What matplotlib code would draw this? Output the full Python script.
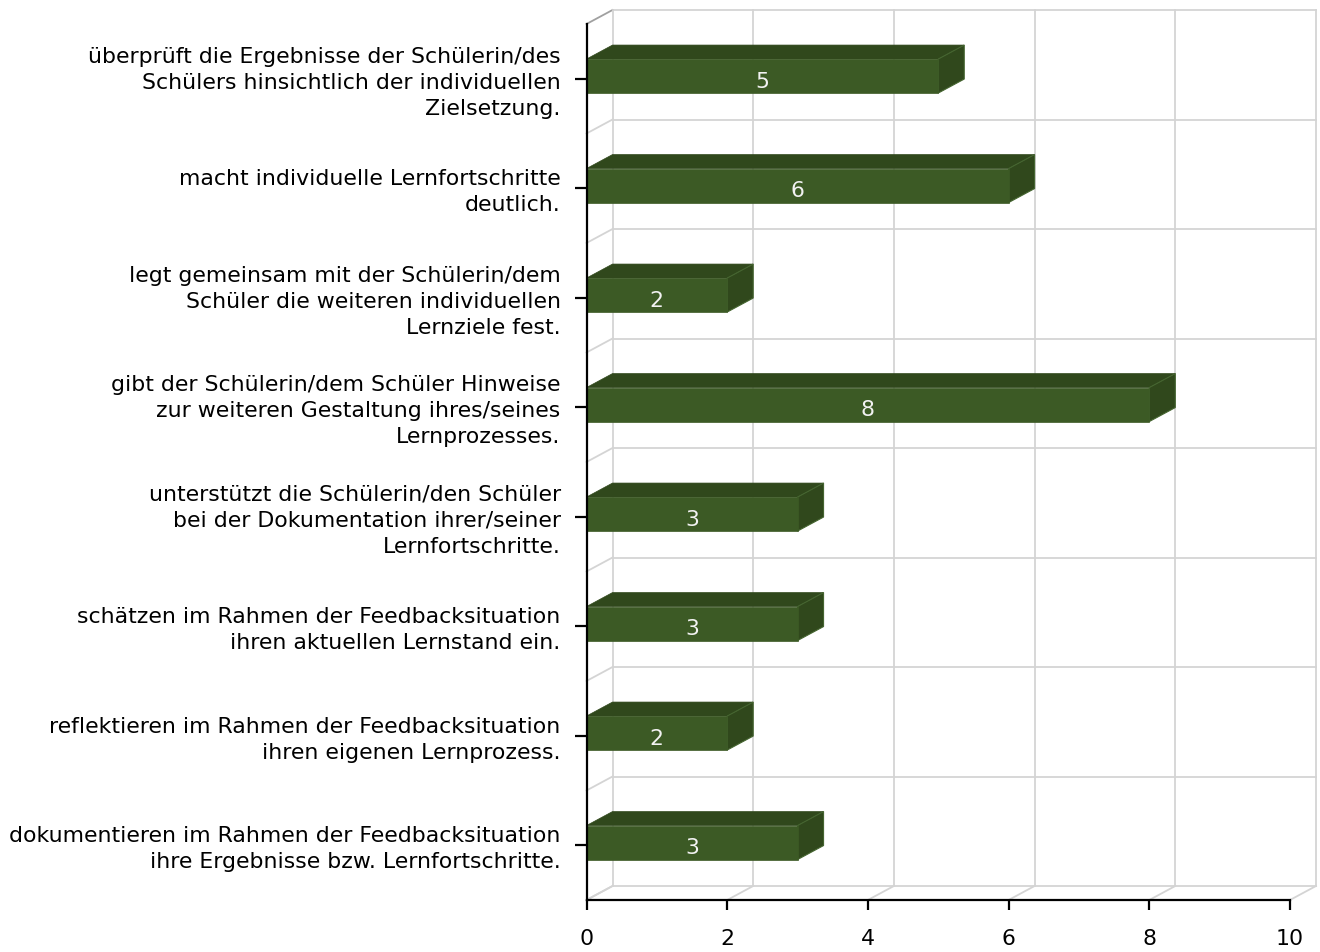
import matplotlib
matplotlib.use("Agg")
import matplotlib.pyplot as plt
from matplotlib.patches import Polygon
from matplotlib.transforms import ScaledTranslation

categories = [
    "überprüft die Ergebnisse der Schülerin/des\nSchülers hinsichtlich der individuellen\nZielsetzung.",
    "macht individuelle Lernfortschritte\ndeutlich.",
    "legt gemeinsam mit der Schülerin/dem\nSchüler die weiteren individuellen\nLernziele fest.",
    "gibt der Schülerin/dem Schüler Hinweise\nzur weiteren Gestaltung ihres/seines\nLernprozesses.",
    "unterstützt die Schülerin/den Schüler\nbei der Dokumentation ihrer/seiner\nLernfortschritte.",
    "schätzen im Rahmen der Feedbacksituation\nihren aktuellen Lernstand ein.",
    "reflektieren im Rahmen der Feedbacksituation\nihren eigenen Lernprozess.",
    "dokumentieren im Rahmen der Feedbacksituation\nihre Ergebnisse bzw. Lernfortschritte.",
]
values = [5, 6, 2, 8, 3, 3, 2, 3]
x_ticks = [0, 2, 4, 6, 8, 10]

FRONT = "#3c5a25"
DARK = "#30481c"
GRID = "#d4d4d4"
W, H = 1320, 952
FS = 15.85

fig = plt.figure(figsize=(W / 100, H / 100), dpi=100)
ax = fig.add_axes([586.5 / W, 1 - 900 / H, (1290 - 586.5) / W, (900 - 24) / H])
ax.set_xlim(0, 10)
ax.set_ylim(7.5, -0.5)

# depth of the fake 3d box, in data units
dx = 26 / 70.35
dy = 14 / 109.5

# back wall and floor
n = len(categories)
for i in range(n + 1):
    y = i - 0.5
    ax.plot([dx, 10 + dx], [y - dy, y - dy], color=GRID, lw=1.3, zorder=1, clip_on=False)
    c = "#a0a0a0" if i == 0 else GRID
    ax.plot([0, dx], [y, y - dy], color=c, lw=1.3, zorder=1, clip_on=False)
for t in x_ticks:
    ax.plot([t + dx, t + dx], [-0.5 - dy, n - 0.5 - dy], color=GRID, lw=1.3, zorder=1, clip_on=False)
    ax.plot([t, t + dx], [n - 0.5, n - 0.5 - dy], color=GRID, lw=1.3, zorder=1, clip_on=False)

# bars
bar_h = 34 / 109.5
off = -2.7 / 109.5
for i, v in enumerate(values):
    y0 = i + off - bar_h / 2
    y1 = i + off + bar_h / 2
    ax.add_patch(Polygon([(0, y0), (v, y0), (v + dx, y0 - dy), (dx, y0 - dy)],
                         facecolor=DARK, edgecolor=DARK, lw=0.5, zorder=3, clip_on=False))
    ax.add_patch(Polygon([(v, y0), (v + dx, y0 - dy), (v + dx, y1 - dy), (v, y1)],
                         facecolor=DARK, edgecolor="#456530", lw=0.8, zorder=3, clip_on=False))
    ax.add_patch(Polygon([(0, y0), (v, y0), (v, y1), (0, y1)],
                         facecolor=FRONT, edgecolor=FRONT, lw=0.5, zorder=4, clip_on=False))
    ax.text(v / 2, i + 3 / 109.5, str(v), color="#f2f2f2", fontsize=FS,
            ha="center", va="center", zorder=5)

for s in ["top", "right"]:
    ax.spines[s].set_visible(False)
for s in ["left", "bottom"]:
    ax.spines[s].set_linewidth(1.6)
    ax.spines[s].set_zorder(6)

ax.set_xticks(x_ticks)
ax.set_yticks(range(n))
ax.set_yticklabels(categories, fontsize=FS, linespacing=1.38, multialignment="right")
ax.tick_params(axis="y", length=8.6, width=1.6, pad=10)
ax.tick_params(axis="x", length=7.5, width=1.6, pad=13.5, labelsize=FS)

# labels sit a little above the tick in the original
shift = ScaledTranslation(0, 1 / 100, fig.dpi_scale_trans)
for label in ax.get_yticklabels():
    label.set_transform(label.get_transform() + shift)

fig.savefig("out.png", dpi=100)
